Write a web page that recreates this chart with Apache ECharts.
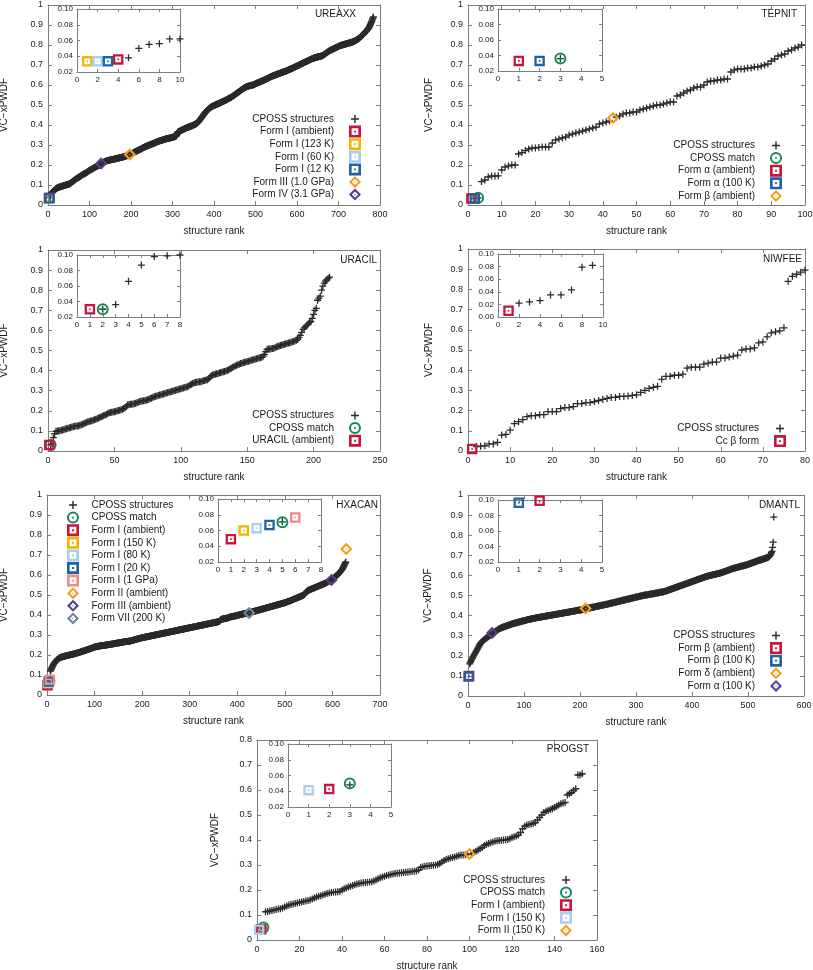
<!DOCTYPE html>
<html><head><meta charset="utf-8">
<script src="https://cdn.jsdelivr.net/npm/echarts/dist/echarts.min.js"></script>
<style>html,body{margin:0;padding:0;background:#fff}#c{width:813px;height:970px}</style>
</head><body><div id="c"></div>
<script>
// ---------------- DATA ----------------
// UREAXX
const ureaxxStart = 5;
const ureaxxCposs = [
0.038,0.050,0.055,0.056,0.062,0.062,0.065,0.067,0.069,0.071,
0.073,0.075,0.077,0.079,0.081,0.083,0.084,0.085,0.086,0.087,
0.088,0.089,0.089,0.090,0.091,0.091,0.092,0.093,0.093,0.094,
0.095,0.095,0.096,0.097,0.097,0.098,0.099,0.099,0.100,0.101,
0.101,0.102,0.102,0.103,0.104,0.104,0.105,0.106,0.107,0.109,
0.110,0.112,0.113,0.115,0.117,0.118,0.120,0.121,0.123,0.125,
0.126,0.128,0.129,0.131,0.132,0.134,0.135,0.136,0.138,0.139,
0.140,0.141,0.143,0.144,0.145,0.147,0.148,0.150,0.151,0.152,
0.153,0.155,0.156,0.157,0.158,0.159,0.160,0.161,0.163,0.164,
0.165,0.167,0.168,0.170,0.171,0.172,0.174,0.175,0.176,0.178,
0.179,0.180,0.181,0.182,0.183,0.185,0.186,0.187,0.188,0.190,
0.191,0.192,0.193,0.194,0.195,0.196,0.197,0.198,0.199,0.200,
0.202,0.203,0.205,0.206,0.208,0.210,0.211,0.212,0.213,0.214,
0.215,0.216,0.217,0.218,0.219,0.220,0.220,0.221,0.222,0.222,
0.223,0.223,0.224,0.224,0.225,0.225,0.226,0.226,0.227,0.227,
0.228,0.228,0.228,0.229,0.229,0.230,0.230,0.231,0.231,0.232,
0.232,0.233,0.233,0.234,0.234,0.235,0.235,0.236,0.236,0.237,
0.237,0.238,0.238,0.239,0.239,0.240,0.240,0.241,0.242,0.242,
0.243,0.244,0.244,0.245,0.246,0.246,0.247,0.248,0.249,0.250,
0.250,0.251,0.252,0.253,0.254,0.255,0.256,0.257,0.258,0.259,
0.260,0.261,0.263,0.264,0.265,0.266,0.267,0.268,0.269,0.270,
0.271,0.272,0.273,0.274,0.275,0.276,0.277,0.278,0.279,0.280,
0.281,0.282,0.284,0.285,0.286,0.287,0.288,0.289,0.290,0.291,
0.292,0.293,0.294,0.295,0.296,0.296,0.297,0.298,0.299,0.300,
0.300,0.301,0.302,0.303,0.304,0.305,0.305,0.306,0.307,0.308,
0.309,0.310,0.310,0.311,0.312,0.313,0.314,0.315,0.316,0.317,
0.317,0.318,0.319,0.320,0.320,0.321,0.322,0.322,0.323,0.324,
0.324,0.325,0.326,0.326,0.327,0.328,0.328,0.329,0.330,0.330,
0.331,0.331,0.332,0.332,0.333,0.333,0.334,0.334,0.335,0.335,
0.336,0.336,0.337,0.337,0.338,0.339,0.339,0.340,0.340,0.341,
0.341,0.342,0.343,0.344,0.345,0.348,0.355,0.360,0.365,0.366,
0.367,0.368,0.369,0.370,0.371,0.372,0.373,0.374,0.375,0.376,
0.377,0.378,0.379,0.380,0.381,0.382,0.383,0.384,0.385,0.386,
0.387,0.387,0.388,0.389,0.390,0.391,0.391,0.392,0.393,0.394,
0.395,0.395,0.396,0.397,0.398,0.399,0.400,0.401,0.402,0.403,
0.404,0.405,0.406,0.407,0.409,0.411,0.413,0.416,0.418,0.420,
0.423,0.425,0.428,0.431,0.434,0.437,0.440,0.443,0.446,0.449,
0.452,0.455,0.457,0.460,0.462,0.465,0.467,0.470,0.472,0.474,
0.476,0.478,0.480,0.482,0.484,0.485,0.487,0.488,0.490,0.491,
0.492,0.493,0.494,0.495,0.496,0.497,0.498,0.499,0.500,0.501,
0.502,0.503,0.504,0.505,0.505,0.506,0.507,0.508,0.509,0.510,
0.511,0.512,0.513,0.514,0.515,0.516,0.517,0.518,0.519,0.520,
0.521,0.522,0.523,0.524,0.525,0.526,0.527,0.528,0.530,0.531,
0.532,0.533,0.534,0.535,0.536,0.537,0.538,0.540,0.541,0.542,
0.544,0.545,0.547,0.548,0.550,0.551,0.553,0.554,0.556,0.557,
0.559,0.560,0.562,0.563,0.565,0.566,0.568,0.569,0.571,0.572,
0.574,0.575,0.577,0.578,0.580,0.581,0.583,0.584,0.585,0.587,
0.588,0.589,0.590,0.591,0.592,0.592,0.593,0.594,0.594,0.595,
0.596,0.596,0.597,0.597,0.598,0.598,0.599,0.599,0.600,0.600,
0.601,0.602,0.603,0.604,0.605,0.606,0.607,0.608,0.609,0.610,
0.611,0.612,0.612,0.613,0.614,0.615,0.616,0.617,0.618,0.619,
0.619,0.620,0.621,0.622,0.623,0.624,0.625,0.626,0.627,0.628,
0.629,0.630,0.631,0.632,0.633,0.634,0.635,0.636,0.637,0.638,
0.639,0.640,0.641,0.642,0.643,0.644,0.645,0.646,0.646,0.647,
0.648,0.649,0.650,0.650,0.651,0.652,0.653,0.654,0.654,0.655,
0.656,0.657,0.657,0.658,0.659,0.660,0.661,0.661,0.662,0.663,
0.664,0.664,0.665,0.666,0.667,0.667,0.668,0.669,0.669,0.670,
0.671,0.672,0.673,0.674,0.675,0.676,0.677,0.678,0.679,0.679,
0.680,0.681,0.682,0.683,0.684,0.685,0.686,0.687,0.688,0.689,
0.690,0.691,0.692,0.693,0.694,0.695,0.696,0.697,0.698,0.699,
0.700,0.701,0.702,0.703,0.704,0.705,0.706,0.707,0.708,0.709,
0.710,0.711,0.712,0.713,0.714,0.715,0.716,0.717,0.718,0.719,
0.720,0.721,0.722,0.723,0.724,0.725,0.726,0.727,0.728,0.729,
0.730,0.731,0.732,0.732,0.733,0.734,0.735,0.735,0.736,0.737,
0.737,0.738,0.739,0.739,0.740,0.740,0.741,0.741,0.742,0.742,
0.743,0.743,0.744,0.744,0.745,0.746,0.747,0.748,0.749,0.750,
0.752,0.753,0.755,0.756,0.758,0.759,0.761,0.762,0.764,0.765,
0.767,0.768,0.770,0.771,0.772,0.773,0.774,0.775,0.776,0.777,
0.778,0.779,0.780,0.781,0.782,0.783,0.784,0.785,0.786,0.787,
0.788,0.789,0.790,0.791,0.792,0.793,0.794,0.795,0.796,0.797,
0.797,0.798,0.799,0.799,0.800,0.801,0.801,0.802,0.802,0.803,
0.804,0.804,0.805,0.805,0.806,0.807,0.807,0.808,0.809,0.809,
0.810,0.810,0.811,0.811,0.812,0.813,0.813,0.814,0.815,0.815,
0.816,0.817,0.818,0.819,0.820,0.821,0.822,0.823,0.825,0.826,
0.827,0.829,0.830,0.831,0.833,0.835,0.836,0.838,0.840,0.842,
0.844,0.846,0.848,0.850,0.852,0.854,0.856,0.858,0.861,0.864,
0.866,0.868,0.870,0.872,0.875,0.878,0.880,0.883,0.886,0.890,
0.894,0.898,0.903,0.908,0.913,0.918,0.924,0.929,0.934,0.940
];
const ureaxxMarkNames = ['Form I (ambient)','Form I (123 K)','Form I (60 K)','Form I (12 K)','Form III (1.0 GPa)','Form IV (3.1 GPa)'];
const ureaxxMarkRanks = [4,1,2,3,197,128];
const ureaxxMarkValues = [0.036,0.0335,0.0335,0.0335,0.252,0.208];

// TEPNIT
const tepnitStart = 3;
const tepnitCposs = [
0.036,
0.117,0.125,0.140,0.145,0.145,0.146,0.175,0.190,0.195,0.200,
0.200,0.255,0.262,0.272,0.280,0.285,0.285,0.288,0.290,0.290,
0.290,0.310,0.325,0.330,0.335,0.340,0.350,0.355,0.360,0.365,
0.370,0.375,0.380,0.385,0.390,0.405,0.410,0.415,0.420,null,
0.440,0.445,0.455,0.460,0.460,0.465,0.465,0.475,0.480,0.485,
0.490,0.495,0.500,0.500,0.505,0.510,0.515,0.515,0.545,0.550,
0.560,0.570,0.575,0.585,0.590,0.590,0.600,0.615,0.620,0.620,
0.625,0.625,0.630,0.630,0.665,0.675,0.680,0.680,0.680,0.685,
0.685,0.690,0.690,0.695,0.700,0.705,0.720,0.730,0.745,0.750,
0.755,0.770,0.775,0.785,0.790,0.800
];
const tepnitMarkNames = ['CPOSS match','Form α (ambient)','Form α (100 K)','Form β (ambient)'];
const tepnitMarkRanks = [3,1,2,43];
const tepnitMarkValues = [0.036,0.033,0.033,0.435];

// URACIL
const uracilStart = 2;
const uracilCposs = [
0.030,0.036,0.066,0.087,0.098,0.099,0.100,0.101,0.103,0.105,
0.107,0.109,0.111,0.113,0.115,0.117,0.119,0.121,0.123,0.124,
0.125,0.126,0.128,0.130,0.133,0.136,0.139,0.142,0.145,0.147,
0.149,0.151,0.153,0.155,0.158,0.161,0.164,0.167,0.170,0.173,
0.176,0.179,0.182,0.186,0.190,0.192,0.193,0.194,0.195,0.197,
0.199,0.201,0.203,0.205,0.208,0.211,0.215,0.222,0.230,0.231,
0.232,0.233,0.234,0.235,0.237,0.240,0.243,0.246,0.248,0.249,
0.250,0.251,0.253,0.255,0.258,0.261,0.264,0.267,0.270,0.272,
0.274,0.276,0.278,0.280,0.282,0.284,0.286,0.288,0.290,0.292,
0.294,0.296,0.298,0.300,0.302,0.304,0.306,0.308,0.310,0.312,
0.314,0.316,0.318,0.320,0.324,0.328,0.332,0.336,0.340,0.341,
0.342,0.343,0.344,0.345,0.347,0.349,0.351,0.353,0.355,0.360,
0.368,0.375,0.378,0.380,0.382,0.384,0.386,0.388,0.390,0.392,
0.394,0.396,0.398,0.400,0.404,0.408,0.412,0.416,0.420,0.423,
0.426,0.429,0.432,0.435,0.437,0.439,0.441,0.443,0.445,0.447,
0.449,0.451,0.453,0.455,0.457,0.459,0.461,0.463,0.465,0.467,
0.472,0.480,0.495,0.505,0.507,0.508,0.509,0.510,0.511,0.514,
0.517,0.520,0.523,0.525,0.527,0.529,0.531,0.533,0.535,0.537,
0.539,0.541,0.543,0.545,0.548,0.551,0.555,0.565,0.575,0.590,
0.605,0.612,0.620,0.625,0.632,0.640,0.645,0.660,0.680,0.700,
0.710,0.750,0.760,0.770,0.800,0.820,0.835,0.845,0.852,0.860,
0.865
];
const uracilMarkNames = ['CPOSS match','URACIL (ambient)'];
const uracilMarkRanks = [2,1];
const uracilMarkValues = [0.030,0.030];

// NIWFEE
const niwfeeStart = 2;
const niwfeeCposs = [
0.022,0.024,0.026,0.035,0.035,0.043,0.079,0.082,0.103,0.135,
0.145,0.155,0.170,0.175,0.175,0.180,0.180,0.195,0.195,0.195,
0.210,0.215,0.215,0.220,0.235,0.235,0.240,0.240,0.245,0.250,
0.255,0.260,0.265,0.265,0.270,0.270,0.272,0.275,0.278,0.290,
0.300,0.310,0.315,0.320,0.355,0.370,0.370,0.375,0.375,0.380,
0.410,0.415,0.415,0.415,0.430,0.435,0.440,0.440,0.460,0.460,
0.465,0.470,0.475,0.500,0.505,0.505,0.510,0.535,0.540,0.565,
0.585,0.590,0.595,0.610,0.840,0.865,0.875,0.885,0.895
];
const niwfeeMarkNames = ['Cc β form'];
const niwfeeMarkRanks = [1];
const niwfeeMarkValues = [0.010];

// HXACAN
const hxacanStart = 5;
const hxacanCposs = [
0.071,null,0.120,0.125,0.130,0.135,0.140,0.145,0.150,0.154,
0.158,0.161,0.165,0.168,0.171,0.174,0.176,0.178,0.180,0.182,
0.184,0.185,0.186,0.187,0.188,0.189,0.190,0.191,0.191,0.192,
0.193,0.193,0.194,0.195,0.195,0.196,0.197,0.197,0.198,0.198,
0.199,0.199,0.200,0.200,0.201,0.202,0.202,0.203,0.203,0.204,
0.204,0.205,0.206,0.206,0.207,0.208,0.208,0.209,0.210,0.210,
0.211,0.212,0.213,0.213,0.214,0.215,0.216,0.216,0.217,0.218,
0.219,0.220,0.220,0.221,0.222,0.223,0.223,0.224,0.225,0.226,
0.227,0.228,0.228,0.229,0.230,0.231,0.232,0.233,0.234,0.234,
0.235,0.236,0.237,0.238,0.239,0.240,0.240,0.241,0.241,0.242,
0.242,0.243,0.243,0.244,0.244,0.245,0.245,0.246,0.246,0.246,
0.247,0.247,0.247,0.248,0.248,0.248,0.249,0.249,0.249,0.250,
0.250,0.251,0.251,0.251,0.252,0.252,0.253,0.253,0.253,0.254,
0.254,0.255,0.255,0.255,0.256,0.256,0.257,0.257,0.258,0.258,
0.258,0.259,0.259,0.260,0.260,0.261,0.261,0.261,0.262,0.262,
0.263,0.263,0.263,0.264,0.264,0.265,0.265,0.266,0.266,0.266,
0.267,0.267,0.267,0.268,0.268,0.268,0.269,0.269,0.269,0.270,
0.270,0.271,0.271,0.272,0.273,0.273,0.274,0.275,0.275,0.276,
0.277,0.277,0.278,0.279,0.279,0.280,0.281,0.281,0.282,0.283,
0.283,0.284,0.285,0.285,0.286,0.286,0.287,0.287,0.288,0.288,
0.289,0.289,0.290,0.290,0.291,0.291,0.292,0.292,0.293,0.293,
0.294,0.294,0.295,0.295,0.296,0.296,0.297,0.297,0.298,0.298,
0.299,0.299,0.300,0.300,0.301,0.301,0.302,0.302,0.303,0.303,
0.304,0.304,0.305,0.305,0.306,0.306,0.307,0.307,0.308,0.308,
0.309,0.309,0.310,0.310,0.311,0.311,0.312,0.312,0.313,0.313,
0.314,0.314,0.315,0.315,0.316,0.316,0.317,0.317,0.318,0.318,
0.319,0.319,0.320,0.320,0.321,0.321,0.322,0.322,0.323,0.323,
0.324,0.324,0.325,0.325,0.326,0.326,0.327,0.327,0.328,0.328,
0.329,0.329,0.330,0.330,0.331,0.331,0.332,0.332,0.333,0.333,
0.334,0.334,0.335,0.335,0.336,0.336,0.337,0.337,0.338,0.338,
0.339,0.339,0.340,0.340,0.341,0.341,0.342,0.342,0.343,0.343,
0.344,0.344,0.345,0.345,0.346,0.346,0.347,0.347,0.348,0.348,
0.349,0.349,0.350,0.350,0.351,0.351,0.352,0.352,0.353,0.353,
0.354,0.354,0.355,0.355,0.356,0.356,0.357,0.357,0.358,0.358,
0.359,0.359,0.360,0.360,0.361,0.361,0.362,0.362,0.363,0.363,
0.364,0.364,0.365,0.365,0.366,0.366,0.367,0.368,0.370,0.373,
0.376,0.378,0.379,0.379,0.380,0.380,0.381,0.381,0.382,0.382,
0.383,0.383,0.384,0.384,0.385,0.385,0.386,0.387,0.388,0.389,
0.390,0.391,0.391,0.392,0.392,0.393,0.393,0.394,0.394,0.395,
0.395,0.396,0.396,0.397,0.397,0.398,0.399,0.399,0.400,0.401,
0.401,0.402,0.402,0.403,0.403,0.404,0.405,0.405,0.406,0.406,
0.407,0.407,0.408,0.408,0.409,0.409,0.410,0.410,0.411,0.411,
null,0.412,0.413,0.413,0.414,0.415,0.415,0.416,0.417,0.417,
0.418,0.419,0.419,0.420,0.421,0.421,0.422,0.423,0.423,0.424,
0.425,0.425,0.426,0.427,0.427,0.428,0.429,0.429,0.430,0.431,
0.431,0.432,0.433,0.433,0.434,0.435,0.435,0.436,0.437,0.437,
0.438,0.439,0.439,0.440,0.441,0.441,0.442,0.443,0.443,0.444,
0.445,0.445,0.446,0.447,0.447,0.448,0.449,0.449,0.450,0.451,
0.451,0.452,0.453,0.453,0.454,0.455,0.455,0.456,0.457,0.457,
0.458,0.459,0.459,0.460,0.461,0.461,0.462,0.463,0.464,0.465,
0.466,0.467,0.467,0.468,0.469,0.470,0.471,0.472,0.473,0.474,
0.475,0.476,0.477,0.478,0.479,0.480,0.481,0.482,0.483,0.484,
0.485,0.486,0.487,0.488,0.489,0.490,0.491,0.492,0.493,0.494,
0.495,0.496,0.497,0.498,0.499,0.501,0.503,0.506,0.509,0.512,
0.515,0.518,0.520,0.522,0.523,0.524,0.525,0.526,0.527,0.528,
0.529,0.530,0.531,0.532,0.533,0.534,0.535,0.536,0.537,0.538,
0.539,0.540,0.541,0.542,0.543,0.544,0.545,0.546,0.547,0.548,
0.549,0.550,0.551,0.552,0.553,0.554,0.555,0.556,0.557,0.558,
0.559,0.560,0.562,0.563,0.565,0.566,0.567,0.568,0.570,0.571,
0.572,0.573,0.574,null,0.577,0.579,0.582,0.584,0.586,0.588,
0.590,0.592,0.594,0.596,0.598,0.600,0.602,0.604,0.606,0.609,
0.612,0.615,0.618,0.621,0.624,0.627,0.631,0.635,0.640,0.645,
0.650,0.655,0.660,0.665
];
const hxacanMarkNames = ['CPOSS match','Form I (ambient)','Form I (150 K)','Form I (80 K)','Form I (20 K)','Form I (1 GPa)','Form II (ambient)','Form III (ambient)','Form VII (200 K)'];
const hxacanMarkRanks = [5,1,2,3,4,6,629,598,425];
const hxacanMarkValues = [0.0705,0.049,0.060,0.063,0.067,0.0765,0.730,0.575,0.410];

// DMANTL
const dmantlStart = 3;
const dmantlCposs = [
0.160,0.166,0.172,0.178,0.184,0.189,0.194,0.200,0.205,0.210,
0.215,0.220,0.225,0.230,0.235,0.240,0.245,0.250,0.255,0.260,
0.264,0.267,0.270,0.273,0.276,0.278,0.280,0.283,0.285,0.287,
0.289,0.291,0.293,0.295,0.297,0.299,0.301,0.303,0.305,0.307,
null,0.311,0.313,0.315,0.317,0.319,0.321,0.323,0.325,0.327,
0.329,0.331,0.333,0.334,0.336,0.337,0.339,0.340,0.341,0.342,
0.343,0.344,0.345,0.346,0.347,0.348,0.349,0.350,0.351,0.352,
0.353,0.354,0.355,0.356,0.357,0.358,0.359,0.360,0.361,0.361,
0.362,0.363,0.364,0.364,0.365,0.366,0.367,0.367,0.368,0.369,
0.370,0.370,0.371,0.372,0.373,0.373,0.374,0.375,0.376,0.376,
0.377,0.378,0.378,0.379,0.380,0.380,0.381,0.382,0.382,0.383,
0.383,0.384,0.385,0.385,0.386,0.386,0.387,0.388,0.388,0.389,
0.389,0.390,0.390,0.391,0.391,0.392,0.392,0.393,0.393,0.394,
0.394,0.395,0.395,0.396,0.396,0.397,0.397,0.398,0.398,0.399,
0.399,0.400,0.400,0.401,0.401,0.402,0.402,0.403,0.403,0.404,
0.404,0.405,0.405,0.406,0.406,0.407,0.407,0.408,0.408,0.409,
0.409,0.410,0.410,0.411,0.411,0.412,0.412,0.413,0.413,0.414,
0.414,0.415,0.415,0.416,0.416,0.417,0.417,0.418,0.418,0.419,
0.419,0.420,0.420,0.421,0.421,0.422,0.422,0.423,0.423,0.424,
0.424,0.425,0.425,0.426,0.426,0.427,0.427,0.428,0.428,0.429,
0.429,0.430,0.430,0.431,0.432,0.432,0.433,null,0.435,0.436,
0.436,0.437,0.437,0.438,0.438,0.439,0.439,0.440,0.441,0.441,
0.442,0.442,0.443,0.443,0.444,0.445,0.445,0.446,0.446,0.447,
0.448,0.448,0.449,0.449,0.450,0.451,0.451,0.452,0.452,0.453,
0.454,0.454,0.455,0.455,0.456,0.457,0.457,0.458,0.459,0.459,
0.460,0.461,0.461,0.462,0.463,0.463,0.464,0.465,0.465,0.466,
0.467,0.467,0.468,0.469,0.469,0.470,0.471,0.472,0.472,0.473,
0.474,0.474,0.475,0.476,0.476,0.477,0.478,0.478,0.479,0.480,
0.480,0.481,0.482,0.482,0.483,0.484,0.484,0.485,0.486,0.486,
0.487,0.488,0.488,0.489,0.490,0.490,0.491,0.492,0.492,0.493,
0.494,0.494,0.495,0.496,0.496,0.497,0.498,0.498,0.499,0.500,
0.500,0.501,0.501,0.502,0.502,0.503,0.503,0.504,0.504,0.505,
0.505,0.506,0.506,0.507,0.507,0.508,0.508,0.509,0.509,0.510,
0.510,0.511,0.511,0.512,0.512,0.513,0.513,0.514,0.515,0.515,
0.516,0.516,0.517,0.517,0.518,0.518,0.519,0.520,0.520,0.521,
0.522,0.523,0.524,0.525,0.526,0.527,0.528,0.529,0.530,0.531,
0.532,0.533,0.534,0.535,0.536,0.537,0.538,0.539,0.540,0.541,
0.542,0.543,0.544,0.545,0.546,0.547,0.548,0.549,0.550,0.551,
0.552,0.553,0.554,0.555,0.556,0.557,0.558,0.559,0.560,0.561,
0.562,0.563,0.564,0.565,0.566,0.567,0.568,0.569,0.570,0.571,
0.572,0.573,0.574,0.575,0.576,0.577,0.578,0.579,0.580,0.581,
0.582,0.583,0.584,0.585,0.586,0.587,0.588,0.589,0.590,0.591,
0.592,0.593,0.594,0.595,0.596,0.596,0.597,0.598,0.599,0.599,
0.600,0.601,0.601,0.602,0.603,0.603,0.604,0.605,0.605,0.606,
0.607,0.607,0.608,0.609,0.609,0.610,0.611,0.611,0.612,0.613,
0.614,0.615,0.616,0.617,0.618,0.619,0.620,0.621,0.622,0.623,
0.624,0.625,0.626,0.627,0.628,0.629,0.630,0.631,0.632,0.633,
0.634,0.635,0.636,0.636,0.637,0.638,0.639,0.639,0.640,0.641,
0.642,0.642,0.643,0.644,0.645,0.645,0.646,0.647,0.648,0.648,
0.649,0.650,0.650,0.651,0.652,0.653,0.654,0.655,0.656,0.657,
0.658,0.659,0.660,0.661,0.662,0.663,0.664,0.665,0.666,0.667,
0.668,0.669,0.670,0.671,0.672,0.673,0.674,0.675,0.676,0.677,
0.677,0.678,0.679,0.680,0.681,0.682,0.683,0.684,0.685,0.686,
0.687,0.688,0.689,0.690,0.692,0.695,0.698,0.702,0.707,0.713,
0.720,0.740,0.765,0.890
];
const dmantlMarkNames = ['Form β (ambient)','Form β (100 K)','Form δ (ambient)','Form α (100 K)'];
const dmantlMarkRanks = [2,1,210,43];
const dmantlMarkValues = [0.099,0.0965,0.435,0.314];

// PROGST
const progstStart = 3;
const progstCposs = [
0.048,
0.113,0.114,0.116,0.118,0.120,0.122,0.124,0.125,0.128,0.132,
0.136,0.140,0.142,0.144,0.146,0.148,0.150,0.152,0.154,0.156,
0.158,0.160,0.164,0.168,0.172,0.175,0.177,0.180,0.183,0.186,
0.188,0.190,0.191,0.192,0.193,0.194,0.200,0.205,0.208,0.212,
0.215,0.218,0.221,0.224,0.226,0.228,0.229,0.230,0.231,0.232,
0.233,0.236,0.240,0.245,0.249,0.252,0.255,0.258,0.260,0.262,
0.264,0.266,0.267,0.268,0.269,0.270,0.271,0.272,0.273,0.274,
0.275,0.276,0.280,0.290,0.293,0.295,0.296,0.297,0.298,0.299,
0.300,0.302,0.306,0.312,0.318,0.322,0.325,0.328,0.330,0.332,
0.335,0.338,0.340,0.340,0.341,0.342,null,0.345,0.350,0.355,
0.360,0.365,0.370,0.378,0.383,0.386,0.389,0.392,0.395,0.397,
0.398,0.399,0.400,0.401,0.402,0.405,0.410,0.413,0.416,0.420,
0.430,0.445,0.455,0.460,0.462,0.464,0.466,0.470,0.480,0.490,
0.500,0.510,0.515,0.518,0.522,0.525,0.530,0.535,0.540,0.545,
0.548,0.550,0.580,0.585,0.590,0.598,0.605,0.660,0.660,0.665
];
const progstMarkNames = ['CPOSS match','Form I (ambient)','Form I (150 K)','Form II (150 K)'];
const progstMarkRanks = [3,2,1,100];
const progstMarkValues = [0.050,0.0427,0.0414,0.344];

// ---------------- STYLE / LAYOUT ----------------
const FONT = '"Liberation Sans", Arial, Helvetica, sans-serif';
const AXIS_COLOR = '#7d7d7d';
const TEXT_COLOR = '#1a1a1a';
const PLUS_COLOR = '#2a2a2a';
const PALETTE = {red:'#c8153c', gold:'#f4b400', sky:'#a9cdef', blue:'#1c62a7', orange:'#f59d1c',
  purple:'#5a3e8e', green:'#138a55', salmon:'#ee8a86', slate:'#6d8699'};
const SHAPES = {
  plus: 'path://M0,4.1H10V5.9H0Z M4.1,0H5.9V10H4.1Z',
  plusLegend: 'path://M-2.5,-2.5L-2.5,-2.5 M12.5,12.5L12.5,12.5 M0,4.1H10V5.9H0Z M4.1,0H5.9V10H4.1Z',
  square: 'path://M0,0H10V10H0Z M2.2,2.2V7.8H7.8V2.2Z M4.2,4.2H5.8V5.8H4.2Z',
  diamond: 'path://M6,0L12,6L6,12L0,6Z M6,2.9L2.9,6L6,9.1L9.1,6Z M5.2,6L6,5.2L6.8,6L6,6.8Z',
  circle: 'path://M6,0A6,6 0 1 1 6,12A6,6 0 1 1 6,0Z M6,2A4,4 0 1 0 6,10A4,4 0 1 0 6,2Z M6,5A1,1 0 1 1 6,7A1,1 0 1 1 6,5Z'
};
const SIZES = {plus:7, square:10.5, diamond:12.5, circle:12};

const ureaxxMarkStyles = [['square','red'],['square','gold'],['square','sky'],['square','blue'],['diamond','orange'],['diamond','purple']];
const tepnitMarkStyles = [['circle','green'],['square','red'],['square','blue'],['diamond','orange']];
const uracilMarkStyles = [['circle','green'],['square','red']];
const niwfeeMarkStyles = [['square','red']];
const hxacanMarkStyles = [['circle','green'],['square','red'],['square','gold'],['square','sky'],['square','blue'],['square','salmon'],['diamond','orange'],['diamond','purple'],['diamond','slate']];
const dmantlMarkStyles = [['square','red'],['square','blue'],['diamond','orange'],['diamond','purple']];
const progstMarkStyles = [['circle','green'],['square','red'],['square','sky'],['diamond','orange']];

const layouts = {
  UREAXX: {main:[48,5,332,200], x:[0,800,100], y:[0,1,0.1], yGap:39, inset:[77,9,103,63], ix:[0,10,2], iy:[0.02,0.1,0.02], title:[457,9.5], legend:{side:'right', pos:452, top:113}},
  TEPNIT: {main:[468,5,337,200], x:[0,100,10], y:[0,1,0.1], yGap:34, inset:[498,9,104,62], ix:[0,5,1], iy:[0.02,0.1,0.02], title:[16,9.5], legend:{side:'right', pos:31, top:139.5}},
  URACIL: {main:[48,250,332,201], x:[0,250,50], y:[0,1,0.1], yGap:39, inset:[77,255,103,62], ix:[0,8,1], iy:[0.02,0.1,0.02], title:[436,255], legend:{side:'right', pos:452, top:409.5}},
  NIWFEE: {main:[468,249,337,202], x:[0,80,10], y:[0,1,0.1], yGap:34, inset:[498,254,105,63], ix:[0,10,2], iy:[0,0.1,0.02], title:[11,254], legend:{side:'right', pos:27, top:422.5}},
  HXACAN: {main:[47,495,333,200], x:[0,700,100], y:[0,1,0.1], yGap:38, inset:[218,499,103,63], ix:[0,8,1], iy:[0.02,0.1,0.02], title:[435,500], legend:{side:'left', pos:67, top:499, itemWidth:27}},
  DMANTL: {main:[468,495,336,201], x:[0,600,100], y:[0,1,0.1], yGap:35, inset:[498,500,104,62], ix:[0,5,1], iy:[0.02,0.1,0.02], title:[13,500], legend:{side:'right', pos:31, top:629.5}},
  PROGST: {main:[257,740,340,200], x:[0,160,20], y:[0,0.8,0.1], yGap:37, inset:[288,744,103,63], ix:[0,5,1], iy:[0.02,0.1,0.02], title:[224,744], legend:{side:'right', pos:241, top:874}}
};

const panelData = [
  {id:'UREAXX', start:ureaxxStart, cposs:ureaxxCposs, names:ureaxxMarkNames, ranks:ureaxxMarkRanks, values:ureaxxMarkValues, styles:ureaxxMarkStyles},
  {id:'TEPNIT', start:tepnitStart, cposs:tepnitCposs, names:tepnitMarkNames, ranks:tepnitMarkRanks, values:tepnitMarkValues, styles:tepnitMarkStyles},
  {id:'URACIL', start:uracilStart, cposs:uracilCposs, names:uracilMarkNames, ranks:uracilMarkRanks, values:uracilMarkValues, styles:uracilMarkStyles},
  {id:'NIWFEE', start:niwfeeStart, cposs:niwfeeCposs, names:niwfeeMarkNames, ranks:niwfeeMarkRanks, values:niwfeeMarkValues, styles:niwfeeMarkStyles},
  {id:'HXACAN', start:hxacanStart, cposs:hxacanCposs, names:hxacanMarkNames, ranks:hxacanMarkRanks, values:hxacanMarkValues, styles:hxacanMarkStyles},
  {id:'DMANTL', start:dmantlStart, cposs:dmantlCposs, names:dmantlMarkNames, ranks:dmantlMarkRanks, values:dmantlMarkValues, styles:dmantlMarkStyles},
  {id:'PROGST', start:progstStart, cposs:progstCposs, names:progstMarkNames, ranks:progstMarkRanks, values:progstMarkValues, styles:progstMarkStyles}
];

// ---------------- BUILD ----------------
function gridOf(b, inset) {
  return {left:b[0], top:b[1], width:b[2], height:b[3], containLabel:false, outerBoundsMode:'none',
    show: inset, backgroundColor:'#ffffff', borderWidth:0};
}
function axisBase(gi, r, primary, inset) {
  return {type:'value', gridIndex:gi, min:r[0], max:r[1], interval:r[2],
    axisLine:{show:true, onZero:false, lineStyle:{color:AXIS_COLOR, width:1}},
    axisTick:{show:true, inside:true, length: inset ? 3 : 4, lineStyle:{color:AXIS_COLOR, width:1}},
    axisLabel:{show:primary, margin: inset ? 4 : 5, fontSize: inset ? 8 : 9, color:TEXT_COLOR, fontFamily:FONT,
      showMinLabel:true, showMaxLabel:true},
    splitLine:{show:false}, nameMoveOverlap:false,
    nameTextStyle:{fontSize:10, color:TEXT_COLOR, fontFamily:FONT}};
}
const option = {animation:false, backgroundColor:'#ffffff', textStyle:{fontFamily:FONT},
  grid:[], xAxis:[], yAxis:[], series:[], legend:[], title:[]};

panelData.forEach(pd => {
  const L = layouts[pd.id];
  const g0 = option.grid.length;
  option.grid.push(gridOf(L.main, false), gridOf(L.inset, true));
  const a0 = option.xAxis.length;
  // x axes: main bottom, main top (mirror), inset bottom, inset top (mirror)
  [[g0, L.x, true, false], [g0, L.x, false, false], [g0+1, L.ix, true, true], [g0+1, L.ix, false, true]].forEach(([gi, r, prim, ins]) => {
    const ax = axisBase(gi, r, prim, ins);
    ax.position = prim ? 'bottom' : 'top';
    if (prim && !ins) { ax.name = 'structure rank'; ax.nameLocation = 'middle'; ax.nameGap = 21; }
    option.xAxis.push(ax);
  });
  [[g0, L.y, true, false], [g0, L.y, false, false], [g0+1, L.iy, true, true], [g0+1, L.iy, false, true]].forEach(([gi, r, prim, ins]) => {
    const ax = axisBase(gi, r, prim, ins);
    ax.position = prim ? 'left' : 'right';
    if (ins) ax.axisLabel.formatter = v => v.toFixed(2);
    if (prim && !ins) { ax.name = 'VC\u2212xPWDF'; ax.nameLocation = 'middle'; ax.nameGap = L.yGap; }
    option.yAxis.push(ax);
  });
  const pts = [];
  pd.cposs.forEach((v, i) => { if (v !== null) pts.push([pd.start + i, v]); });
  const cName = pd.id + '|CPOSS structures';
  [[a0, false], [a0 + 2, true]].forEach(([ai, ins]) => {
    option.series.push({type:'scatter', name:cName, xAxisIndex:ai, yAxisIndex:ai, data:pts, clip:true,
      symbol:SHAPES.plus, symbolSize:SIZES.plus, silent:true, z: ins ? 5 : 2,
      itemStyle:{color:PLUS_COLOR, opacity:1, borderWidth:0}});
    pd.names.forEach((nm, j) => {
      const [shape, col] = pd.styles[j];
      option.series.push({type:'scatter', name:pd.id + '|' + nm, xAxisIndex:ai, yAxisIndex:ai, clip:true,
        data:[[pd.ranks[j], pd.values[j]]], symbol:SHAPES[shape], symbolSize:SIZES[shape], silent:true, z: ins ? 6 : 3,
        itemStyle:{color:PALETTE[col], opacity:1, borderWidth:0}});
    });
  });
  const leg = {orient:'vertical', align: L.legend.side === 'right' ? 'right' : 'left', top:L.legend.top, padding:0,
    itemWidth:L.legend.itemWidth || 32, itemHeight:12, itemGap:0.6, selectedMode:false, itemStyle:{borderWidth:0},
    textStyle:{fontSize:10, color:TEXT_COLOR, fontFamily:FONT},
    formatter: n => n.split('|')[1],
    data: [{name:cName, icon:SHAPES.plusLegend}].concat(pd.names.map((nm, j) => ({name:pd.id + '|' + nm, icon:SHAPES[pd.styles[j][0]]})))};
  if (L.legend.side === 'right') leg.right = L.legend.pos; else leg.left = L.legend.pos;
  option.legend.push(leg);
  option.title.push({text:pd.id, right:L.title[0], top:L.title[1], padding:0,
    textStyle:{fontSize:10, fontWeight:'normal', color:TEXT_COLOR, fontFamily:FONT}});
});

const chart = echarts.init(document.getElementById('c'), null, {renderer:'canvas'});
chart.setOption(option);
</script></body></html>
